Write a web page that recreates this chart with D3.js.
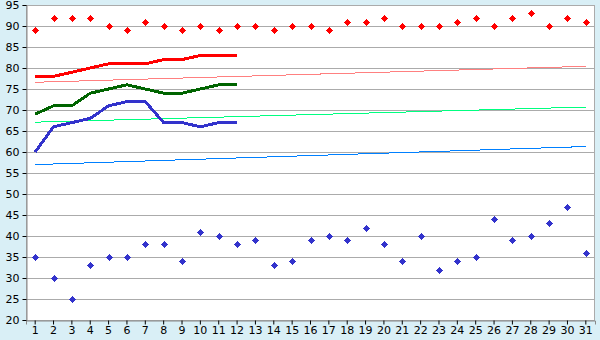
<!DOCTYPE html>
<html>
<head>
<meta charset="utf-8">
<script src="https://cdn.jsdelivr.net/npm/d3@7/dist/d3.min.js"></script>
<style>
  body { margin: 0; background: #d9eff6; }
  svg { display: block; }
  .tick text { font-family: "DejaVu Sans", Verdana, sans-serif; font-size: 11px; fill: #000; }
</style>
</head>
<body>
<div id="graphArea"></div>
<script>
var days = d3.range(1, 32)
var yTicks = [20, 25, 30, 35, 40, 45, 50, 55, 60, 65, 70, 75, 80, 85, 90, 95]

// scatter points, one per day
var highPoints = [89,92,92,92,90,89,91,90,89,90,89,90,90,89,90,90,89,91,91,92,90,90,90,91,92,90,92,93,90,92,91]
var lowPoints = [35,30,25,33,35,35,38,38,34,41,40,38,39,33,34,39,40,39,42,38,34,40,32,34,35,44,39,40,43,47,36]

// lines for the first 12 days
var lineDays = d3.range(1, 13)
var redLine = [78,78,79,80,81,81,81,82,82,83,83,83]
var greenLine = [69,71,71,74,75,76,75,74,74,75,76,76]
var blueLine = [60,66,67,68,71,72,72,67,67,66,67,67]

// trend lines, value at day 1 and day 31
var trendDays = [1, 31]
var redTrend = [76.6, 80.4]
var greenTrend = [67.1, 70.7]
var blueTrend = [57.0, 61.3]

var width = 600, height = 340
var margin = { top: 5, left: 26, bottom: 20, right: 5 }

var svg = d3.select("#graphArea").append("svg")
  .attr("width", width)
  .attr("height", height)

svg.append("rect")
  .attr("width", width).attr("height", height)
  .attr("fill", "#d9eff6")

var x = d3.scaleBand()
  .domain(days)
  .range([margin.left, width - margin.right])
var cx = function(d) { return x(d) + x.bandwidth() / 2 }

var y = d3.scaleLinear()
  .domain([20, 95])
  .range([height - margin.bottom, margin.top])

svg.append("rect")
  .attr("x", margin.left).attr("y", margin.top)
  .attr("width", width - margin.left - margin.right)
  .attr("height", height - margin.top - margin.bottom)
  .attr("fill", "#fff")

// gridlines
svg.append("g")
  .selectAll("line")
  .data(yTicks)
  .enter()
  .append("line")
  .attr("x1", margin.left).attr("x2", width - margin.right)
  .attr("y1", function(d) { return Math.round(y(d)) + 0.5 })
  .attr("y2", function(d) { return Math.round(y(d)) + 0.5 })
  .attr("stroke", "#ababab")

svg.append("rect")
  .attr("x", margin.left + 0.5).attr("y", margin.top + 0.5)
  .attr("width", width - margin.left - margin.right - 1)
  .attr("height", height - margin.top - margin.bottom)
  .attr("fill", "none")
  .attr("stroke", "#ababab")

var yAxis = svg.append("g")
  .attr("transform", "translate(" + (margin.left + 0.5) + ",0)")
  .call(d3.axisLeft(y).tickValues(yTicks).tickSize(4).tickPadding(3))
yAxis.select(".domain").attr("stroke", "#888")
yAxis.selectAll(".tick line").attr("stroke", "#000")

var xAxis = svg.append("g")
  .attr("transform", "translate(0," + (height - margin.bottom + 0.5) + ")")
  .call(d3.axisBottom(x).tickSize(4).tickPadding(2))
xAxis.select(".domain").attr("stroke", "#888")
xAxis.selectAll(".tick line").attr("stroke", "#000")

function drawLine(xs, vals, color, w) {
  var data = xs.map(function(d, i) { return [d, vals[i]] })
  svg.append("path")
    .datum(data)
    .attr("d", d3.line().x(function(d) { return cx(d[0]) }).y(function(d) { return y(d[1]) }))
    .attr("fill", "none")
    .attr("stroke", color)
    .attr("stroke-width", w)
    .attr("shape-rendering", "crispEdges")
}

drawLine(trendDays, redTrend, "#ff8080", 1)
drawLine(trendDays, greenTrend, "#00ff80", 1)
drawLine(trendDays, blueTrend, "#0080ff", 1)

drawLine(lineDays, redLine, "#ff0000", 3)
drawLine(lineDays, greenLine, "#006400", 3)
drawLine(lineDays, blueLine, "#3333cc", 3)

// small plus-shaped markers
var marker = "M-1.5,-2.5h3v5h-3z M-2.5,-1.5h5v3h-5z M-0.5,-3.5h1v7h-1z M-3.5,-0.5h7v1h-7z"

function drawPoints(vals, color) {
  svg.append("g")
    .selectAll("path")
    .data(vals)
    .enter()
    .append("path")
    .attr("d", marker)
    .attr("transform", function(d, i) { return "translate(" + (Math.round(cx(days[i])) + 0.5) + "," + (Math.round(y(d)) + 0.5) + ")" })
    .attr("fill", color)
    .attr("shape-rendering", "crispEdges")
}

drawPoints(highPoints, "#ff0000")
drawPoints(lowPoints, "#3333cc")
</script>
</body>
</html>
